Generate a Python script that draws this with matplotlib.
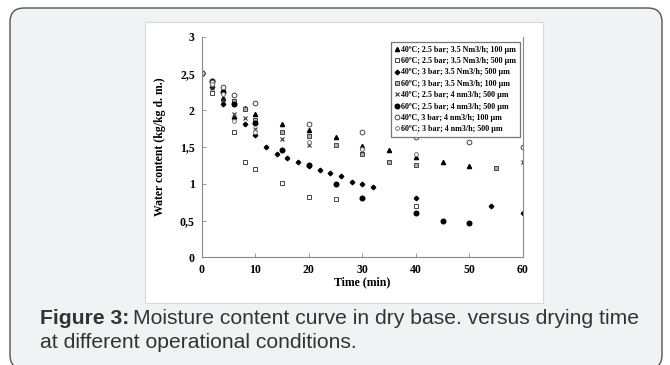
import matplotlib.pyplot as plt
from matplotlib.patches import FancyBboxPatch, Rectangle
from matplotlib.ticker import FuncFormatter

# series: time (min) and water content (kg/kg d. m.)
t_a = [0, 2, 4, 6, 8, 10, 15, 20, 25, 30, 35, 40, 45, 50]
w_a = [2.5, 2.38, 2.17, 2.12, 2.03, 1.95, 1.81, 1.73, 1.63, 1.51, 1.46, 1.36, 1.29, 1.24]

t_b = [0, 2, 6, 8, 10, 15, 20, 25, 40]
w_b = [2.5, 2.23, 1.71, 1.30, 1.20, 1.01, 0.82, 0.79, 0.70]

t_c = [0, 2, 4, 6, 8, 10, 12, 14, 16, 18, 20, 22, 24, 26, 28, 30, 32, 40, 54, 60]
w_c = [2.5, 2.32, 2.08, 1.90, 1.81, 1.66, 1.50, 1.40, 1.35, 1.30, 1.24, 1.19, 1.15, 1.10, 1.02, 1.00, 0.95, 0.81, 0.70, 0.60]

t_d = [0, 2, 4, 6, 8, 10, 15, 20, 25, 30, 35, 40, 55]
w_d = [2.5, 2.36, 2.25, 2.12, 2.01, 1.87, 1.70, 1.65, 1.53, 1.40, 1.30, 1.25, 1.22]

t_e = [0, 2, 4, 6, 8, 10, 15, 20, 30, 60]
w_e = [2.5, 2.30, 2.14, 1.95, 1.90, 1.74, 1.61, 1.53, 1.45, 1.30]

t_f = [0, 2, 4, 6, 10, 15, 20, 25, 30, 40, 45, 50]
w_f = [2.5, 2.40, 2.25, 2.09, 1.82, 1.46, 1.25, 1.00, 0.80, 0.60, 0.50, 0.47]

t_g = [0, 2, 4, 6, 10, 20, 30, 40, 50, 60]
w_g = [2.5, 2.38, 2.31, 2.21, 2.10, 1.81, 1.71, 1.63, 1.57, 1.50]

t_h = [0, 2, 4, 6, 10, 20, 30, 40]
w_h = [2.5, 2.35, 2.22, 1.85, 1.71, 1.57, 1.47, 1.41]

labels = [
    "40\u00baC; 2.5 bar; 3.5 Nm3/h; 100 \u00b5m",
    "60\u00baC; 2.5 bar; 3.5 Nm3/h; 500 \u00b5m",
    "40\u00baC; 3 bar; 3.5 Nm3/h; 500 \u00b5m",
    "60\u00baC; 3 bar; 3.5 Nm3/h; 100 \u00b5m",
    "40\u00baC; 2.5 bar; 4 nm3/h; 500 \u00b5m",
    "60\u00baC; 2.5 bar; 4 nm3/h; 500 \u00b5m",
    "40\u00baC, 3 bar; 4 nm3/h; 100 \u00b5m",
    "60\u00baC; 3 bar; 4 nm3/h; 500 \u00b5m",
]

W, H = 670, 365
fig = plt.figure(figsize=(6.7, 3.65), dpi=100)
fig.patch.set_facecolor('white')

# outer rounded card (pixel coords, origin bottom-left) and white chart panel
card = FancyBboxPatch((10, -4), 652, 365 + 4 - 8,
                      boxstyle="round,pad=0,rounding_size=14",
                      transform=None, facecolor='#f1f2f4',
                      edgecolor='#555555', linewidth=1.0, zorder=0)
fig.patches.append(card)
panel = Rectangle((145 / W, 1 - 303 / H), 398 / W, 281 / H,
                  transform=fig.transFigure, facecolor='white',
                  edgecolor='#d8d8d8', linewidth=0.8, zorder=0.5)
fig.patches.append(panel)

ax = fig.add_axes([201.7 / W, 1 - 257.3 / H, 321.3 / W, 220.6 / H])
ax.set_zorder(2)
ax.set_facecolor('white')

serif = 'Liberation Serif'
ax.plot(t_a, w_a, ls='none', marker='^', ms=3.0, color='black', label=labels[0])
ax.plot(t_b, w_b, ls='none', marker='s', ms=3.1, mfc='white', mec='#444444', mew=0.7, label=labels[1])
ax.plot(t_c, w_c, ls='none', marker='D', ms=2.3, color='black', label=labels[2])
ax.plot(t_d, w_d, ls='none', marker='s', ms=3.1, mfc='#b0b0b0', mec='#444444', mew=0.7, label=labels[3])
ax.plot(t_e, w_e, ls='none', marker='x', ms=2.8, color='#333333', mew=0.8, label=labels[4])
ax.plot(t_f, w_f, ls='none', marker='o', ms=3.3, color='black', label=labels[5])
ax.plot(t_g, w_g, ls='none', marker='o', ms=3.4, mfc='white', mec='#444444', mew=0.7, label=labels[6])
ax.plot(t_h, w_h, ls='none', marker='o', ms=2.8, mfc='white', mec='#777777', mew=0.7, label=labels[7])

ax.set_xlim(0, 60)
ax.set_ylim(0, 3)
ax.set_xticks([0, 10, 20, 30, 40, 50, 60])
ax.set_yticks([0, 0.5, 1, 1.5, 2, 2.5, 3])
ax.yaxis.set_major_formatter(FuncFormatter(lambda v, p: ('%g' % v).replace('.', ',')))
ax.tick_params(direction='in', length=3, width=0.6, color='#888888', pad=5)
for lab in ax.get_xticklabels() + ax.get_yticklabels():
    lab.set_fontfamily(serif)
    lab.set_fontweight('bold')
    lab.set_fontsize(8.5)
for s in ax.spines.values():
    s.set_color('#888888')
    s.set_linewidth(0.8)
ax.spines['top'].set_visible(False)

ax.set_xlabel('Time (min)', fontfamily=serif, fontweight='bold', fontsize=8.5, labelpad=0)
ax.set_ylabel('Water content (kg/kg d. m.)', fontfamily=serif, fontweight='bold', fontsize=8.5, labelpad=10)

leg = ax.legend(loc='upper right', bbox_to_anchor=(0.991, 0.976), fancybox=False,
                edgecolor='#777777', framealpha=1, borderpad=0.45,
                prop={'family': serif, 'weight': 'bold', 'size': 5.8},
                handlelength=0.5, handletextpad=0.3, labelspacing=0.42,
                borderaxespad=0, markerscale=1.0)
leg.get_frame().set_linewidth(0.9)

# caption, bold lead followed by plain text
cap_font = 'Liberation Sans'
x0, y1, y2 = 40 / W, 1 - 318 / H, 1 - 343 / H
t1 = fig.text(x0, y1, 'Figure 3:', fontfamily=cap_font, fontweight='bold',
              fontsize=15.2, va='center', color='#333333')
fig.canvas.draw()
bb = t1.get_window_extent(renderer=fig.canvas.get_renderer())
fig.text(bb.x1 / W + 4 / W, y1, 'Moisture content curve in dry base. versus drying time',
         fontfamily=cap_font, fontsize=15.2, va='center', color='#333333')
fig.text(x0, y2, 'at different operational conditions.', fontfamily=cap_font,
         fontsize=15.2, va='center', color='#333333')

fig.savefig('out.png', dpi=100, facecolor=fig.get_facecolor())
